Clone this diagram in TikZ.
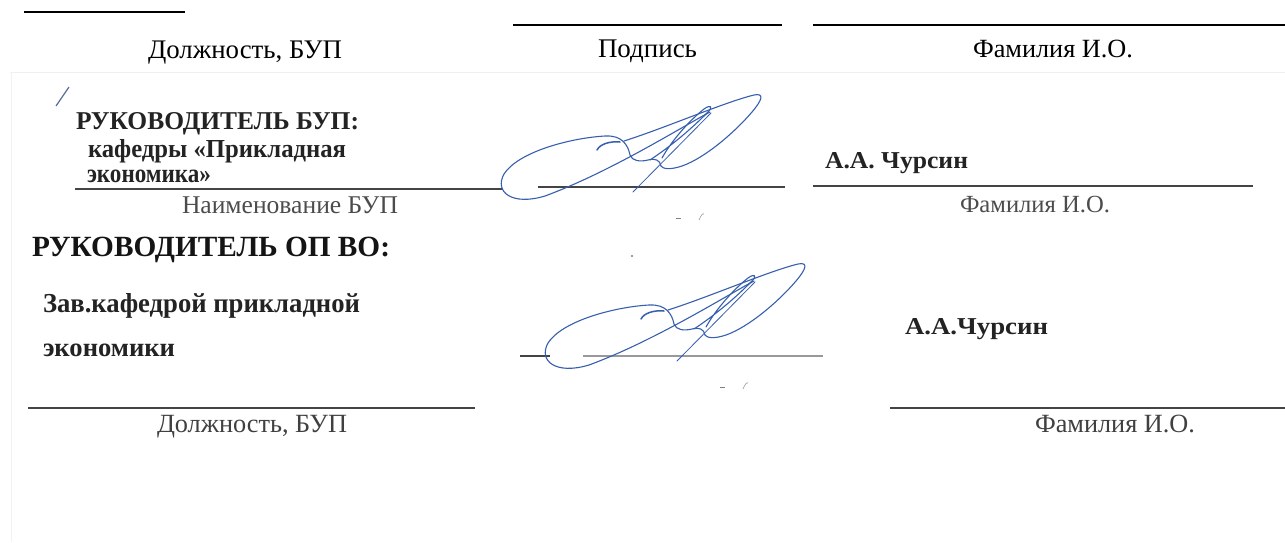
\documentclass[tikz,border=0pt]{standalone}
\usepackage{fontspec}
\setmainfont{Liberation Serif}
\usepackage{graphicx}
\newcommand{\fw}[2]{\resizebox{#1pt}{!}{#2}}
\newcommand{\fwh}[3]{\resizebox{#1pt}{#2pt}{#3}}
\definecolor{ink}{RGB}{55,95,175}
\definecolor{scan}{RGB}{35,35,35}
\tikzset{
  lbl/.style={anchor=base west, inner sep=0pt, outer sep=0pt},
  scantxt/.style={lbl, text=scan},
  rule/.style={line width=2pt, black},
  scanrule/.style={line width=1.3pt, scan!85},
  sigline/.style={ink, line width=1.1pt, line cap=round, line join=round},
  sig/.pic={
    % oval with its long lower stroke
    \draw[sigline] (710,112) .. controls (680,128) and (610,172) .. (545,196)
       .. controls (512,206) and (494,192) .. (504,174)
       .. controls (518,152) and (570,138) .. (605,136)
       .. controls (622,135) and (628,145) .. (630,155)
       .. controls (632,161) and (640,162) .. (648,160)
       .. controls (655,158) and (660,160) .. (661,166);
    % outer lobe
    \draw[sigline] (624,141) .. controls (665,128) and (725,102) .. (754,95)
       .. controls (764,93) and (763,99) .. (752,112)
       .. controls (735,132) and (705,158) .. (682,166)
       .. controls (670,170) and (663,169) .. (661,166);
    % inner narrow loop
    \draw[sigline] (650,160) .. controls (680,140) and (700,120) .. (708,112)
       .. controls (713,107) and (711,104) .. (704,109)
       .. controls (690,120) and (672,140) .. (662,158);
    % descending stroke
    \draw[sigline, line width=0.8pt] (711,113) -- (633,192);
    % hook
    \draw[sigline, line width=1.5pt] (597,150) .. controls (600,144) and (610,141) .. (620,142);
    \draw[gray, line width=1pt] (676,218) -- (681,218);
    \draw[gray!70, line width=0.7pt] (699,220) .. controls (701,215) and (703,213) .. (704,214);
  }
}
\begin{document}
\begin{tikzpicture}[x=1pt, y=-1pt]
\useasboundingbox (0,0) rectangle (1285,542);
\fill[white] (0,0) rectangle (1285,542);
% faint scan edges
\draw[gray!12, line width=1pt] (10,72) -- (1285,72);
\draw[gray!10, line width=1pt] (11,72) -- (11,542);

% top printed rules
\coordinate (r1a) at (24,12);  \coordinate (r1b) at (185,12);
\coordinate (r2a) at (513,25); \coordinate (r2b) at (782,25);
\coordinate (r3a) at (813,25); \coordinate (r3b) at (1285,25);
\draw[rule] (r1a) -- (r1b);
\draw[rule] (r2a) -- (r2b);
\draw[rule] (r3a) -- (r3b);

\node[lbl] (t1) at (148,58) {\fw{194}{Должность, БУП}};
\node[lbl] (t2) at (598,57) {\fw{99}{Подпись}};
\node[lbl] (t3) at (973,57) {\fw{160}{Фамилия И.О.}};

% first scanned block
\draw[ink!60!gray, line width=1.2pt] (56,106) -- (69,87);
\node[scantxt] (h1) at (76,129) {\fwh{283}{17}{\bfseries РУКОВОДИТЕЛЬ БУП:}};
\node[scantxt] (h1a) at (88,157) {\fwh{258}{18}{\bfseries кафедры «Прикладная}};
\node[scantxt] (h1b) at (87,182) {\fwh{124}{12.5}{\bfseries экономика»}};
\coordinate (s1a) at (75,189);  \coordinate (s1b) at (503,189);
\coordinate (s1c) at (538,187); \coordinate (s1d) at (785,187);
\coordinate (s1e) at (813,186); \coordinate (s1f) at (1253,186);
\draw[scanrule] (s1a) -- (s1b);
\draw[scanrule] (s1c) -- (s1d);
\draw[scanrule] (s1e) -- (s1f);
\node[scantxt] (n1) at (825,168) {\fwh{143}{16}{\bfseries А.А. Чурсин}};
\node[lbl, text=black!70] (n1l) at (182,213) {\fw{216}{Наименование БУП}};
\node[lbl, text=black!70] (f1l) at (960,212) {\fw{150}{Фамилия И.О.}};
\pic at (0,0) {sig};

% second scanned block
\node[lbl, text=black!92] (h2) at (32,256) {\fw{358}{\bfseries РУКОВОДИТЕЛЬ ОП ВО:}};
\node[scantxt] (h2a) at (43,312) {\fwh{317}{19}{\bfseries Зав.кафедрой прикладной}};
\node[scantxt] (h2b) at (43,356) {\fw{132}{\bfseries экономики}};
\fill[gray] (632,256) circle (1.2pt);
\coordinate (s2a) at (28,408);  \coordinate (s2b) at (475,408);
\coordinate (s2c) at (520,356); \coordinate (s2d) at (550,356);
\coordinate (s2e) at (583,356); \coordinate (s2f) at (823,356);
\coordinate (s2g) at (890,408); \coordinate (s2h) at (1285,408);
\draw[scanrule] (s2a) -- (s2b);
\draw[scanrule] (s2c) -- (s2d);
\draw[scanrule, gray!80] (s2e) -- (s2f);
\draw[scanrule] (s2g) -- (s2h);
\pic at (44,169) {sig};
\node[scantxt] (n2) at (905,334) {\fwh{143}{16}{\bfseries А.А.Чурсин}};
\node[lbl, text=black!75] (d2) at (157,432) {\fw{190}{Должность, БУП}};
\node[lbl, text=black!75] (f2) at (1035,432) {\fw{160}{Фамилия И.О.}};
\end{tikzpicture}
\end{document}
